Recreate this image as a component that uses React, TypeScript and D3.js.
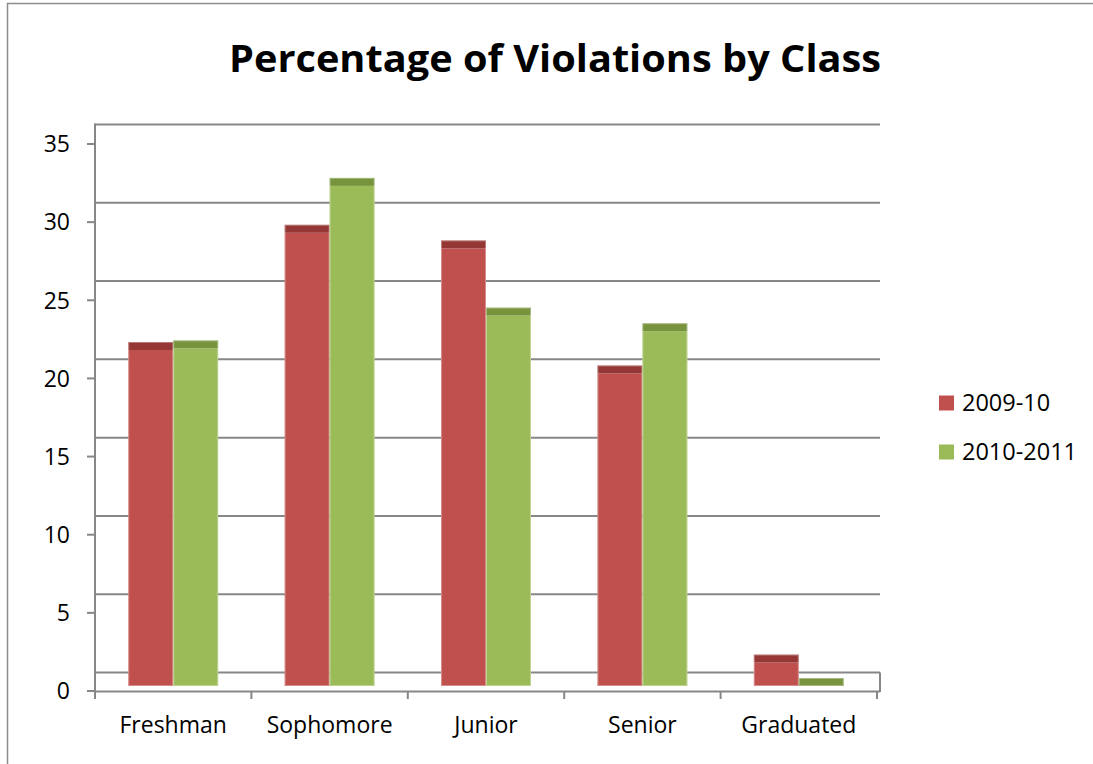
import React from "react";
import * as d3 from "d3";

const categories = ["Freshman", "Sophomore", "Junior", "Senior", "Graduated"];
const seriesNames = ["2009-10", "2010-2011"];
const values2009 = [21.5, 29.0, 28.0, 20.0, 1.5];
const values2010 = [21.6, 32.0, 23.7, 22.7, 0];
const yTicks = [0, 5, 10, 15, 20, 25, 30, 35];
const frontColors = ["#C0504D", "#9BBB59"];
const topColors = ["#953735", "#77933C"];

const W = 1093;
const H = 764;
const FONT = "'Open Sans', 'Noto Sans', sans-serif";

export default function App() {
  const left = 95;
  const right = 877;
  const wallRight = 880;
  const yFront = d3.scaleLinear().domain([0, 35]).range([691, 144]);
  const yBack = d3.scaleLinear().domain([0, 35]).range([672.5, 124.5]);
  const yBar = d3.scaleLinear().domain([0, 35]).range([686, 686 - 547]);
  const depth = 8;

  const x0 = d3
    .scaleBand<string>()
    .domain(categories)
    .range([left, right])
    .paddingInner(0.425)
    .paddingOuter(0.2125);
  const x1 = d3
    .scaleBand<string>()
    .domain(seriesNames)
    .range([0, x0.bandwidth()]);
  const xTick = d3.scaleLinear().domain([0, categories.length]).range([left, right]);

  const seriesValues = [values2009, values2010];
  const grid = "#878787";

  return (
    <svg
      width={W}
      height={H}
      style={{ position: "absolute", left: 0, top: 0, background: "#fff" }}
      fontFamily={FONT}
    >
      <rect x={7.5} y={3.5} width={W + 20} height={H + 20} fill="#fff" stroke="#8c8c8c" strokeWidth={1.5} />

      <text
        x={555}
        y={72}
        textAnchor="middle"
        fontSize={38}
        fontWeight="bold"
        textLength={652}
        lengthAdjust="spacingAndGlyphs"
        fill="#000"
      >
        Percentage of Violations by Class
      </text>

      {yTicks.map((t) => (
        <line key={"g" + t} x1={left} x2={wallRight} y1={yBack(t)} y2={yBack(t)} stroke={grid} strokeWidth={2} />
      ))}
      <line x1={left} x2={wallRight} y1={yFront(0) + 0.5} y2={yFront(0) + 0.5} stroke={grid} strokeWidth={2} />
      <line x1={wallRight} x2={wallRight} y1={yBack(0)} y2={yFront(0) + 1} stroke={grid} strokeWidth={2} />
      <line x1={left} x2={left} y1={yBack(35) - 1} y2={yFront(0) + 8} stroke={grid} strokeWidth={2} />
      {yTicks.map((t) => (
        <g key={"t" + t}>
          <line x1={left - 8} x2={left} y1={yFront(t)} y2={yFront(t)} stroke={grid} strokeWidth={2} />
          <text x={70} y={yFront(t)} dy="0.36em" textAnchor="end" fontSize={23} fill="#000">
            {t}
          </text>
        </g>
      ))}
      {d3.range(categories.length + 1).map((i) => (
        <line
          key={"c" + i}
          x1={xTick(i)}
          x2={xTick(i)}
          y1={yFront(0)}
          y2={yFront(0) + 8}
          stroke={grid}
          strokeWidth={2}
        />
      ))}
      {categories.map((c) => (
        <text
          key={"l" + c}
          x={(x0(c) as number) + x0.bandwidth() / 2}
          y={733}
          textAnchor="middle"
          fontSize={23}
          fill="#000"
        >
          {c}
        </text>
      ))}

      {categories.map((c, ci) =>
        seriesNames.map((s, si) => {
          const v = seriesValues[si][ci];
          const bx = (x0(c) as number) + (x1(s) as number);
          const bw = x1.bandwidth();
          const top = yBar(v);
          const base = yBar(0);
          return (
            <g key={c + s}>
              <rect x={bx} y={top} width={bw} height={base - top} fill={frontColors[si]} />
              <rect x={bx} y={top - depth} width={bw} height={depth} fill={topColors[si]} />
              <rect
                x={bx + 0.5}
                y={top - depth + 0.5}
                width={bw - 1}
                height={base - top + depth - 1}
                fill="none"
                stroke="#ffffff"
                strokeOpacity={0.35}
                strokeWidth={1}
              />
            </g>
          );
        })
      )}

      {seriesNames.map((s, i) => (
        <g key={"lg" + s} transform={`translate(939, ${403 + i * 49})`}>
          <rect x={0} y={-7.5} width={15} height={15} fill={frontColors[i]} />
          <text x={23} y={0} dy="0.36em" fontSize={23.5} fill="#000">
            {s}
          </text>
        </g>
      ))}
    </svg>
  );
}
